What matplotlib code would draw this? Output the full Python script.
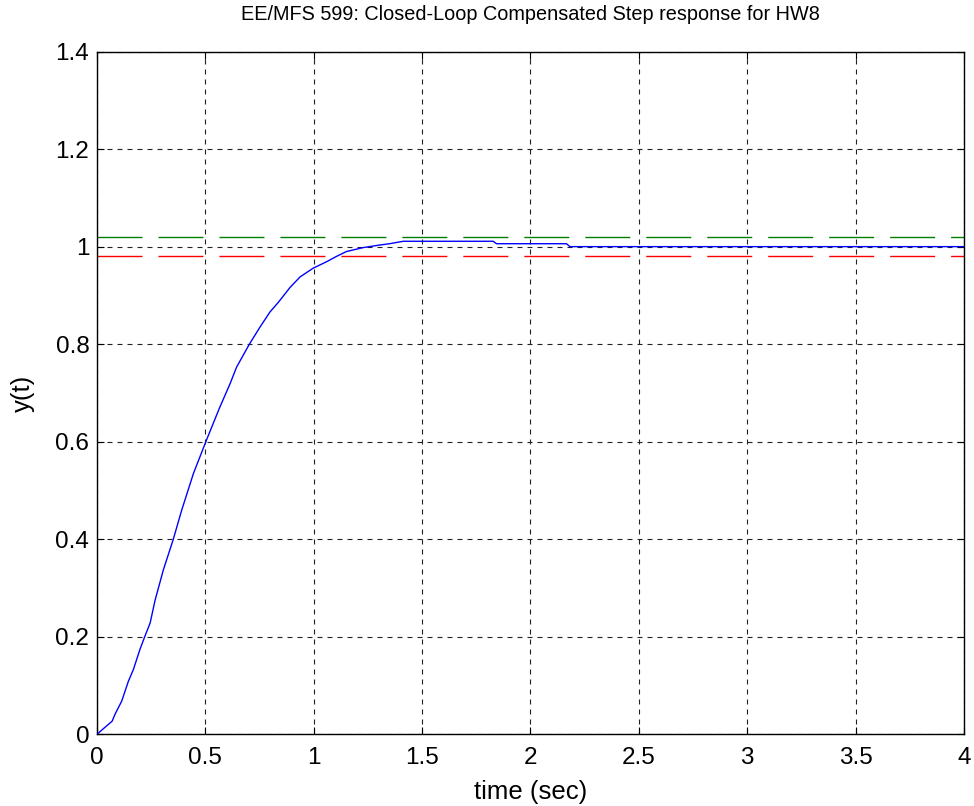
import matplotlib.pyplot as plt

plt.rcParams['font.family'] = ['Liberation Sans', 'DejaVu Sans']

# step response
t = [0, 0.005, 0.07, 0.083, 0.114, 0.145, 0.168, 0.198, 0.221, 0.245, 0.268,
     0.306, 0.352, 0.391, 0.445, 0.503, 0.564, 0.614, 0.644, 0.703, 0.752,
     0.798, 0.837, 0.890, 0.937, 0.998, 1.059, 1.105, 1.151, 1.228, 1.30,
     1.35, 1.413, 1.828, 1.843, 2.166, 2.182, 4.0]
y = [0, 0.002, 0.027, 0.041, 0.068, 0.109, 0.133, 0.174, 0.201, 0.228, 0.275,
     0.337, 0.400, 0.460, 0.535, 0.601, 0.668, 0.719, 0.753, 0.800, 0.835,
     0.866, 0.886, 0.916, 0.938, 0.956, 0.969, 0.980, 0.990, 0.998, 1.003,
     1.006, 1.011, 1.011, 1.006, 1.006, 1.0, 1.0]

band_hi = 1.02
band_lo = 0.98
xticks = [0, 0.5, 1, 1.5, 2, 2.5, 3, 3.5, 4]
xtick_labels = ['0', '0.5', '1', '1.5', '2', '2.5', '3', '3.5', '4']
yticks = [0, 0.2, 0.4, 0.6, 0.8, 1.0, 1.2, 1.4]
ytick_labels = ['0', '0.2', '0.4', '0.6', '0.8', '1', '1.2', '1.4']

fig = plt.figure(figsize=(9.74, 8.06), dpi=100)
ax = fig.add_axes([0.0996, 0.0890, 0.8901, 0.8470])

ax.plot(t, y, color='blue', lw=1.0, zorder=3)
long_dash = (32.4, 11.5)
ax.axhline(band_hi, color='green', lw=1.0, dashes=long_dash, zorder=2)
ax.axhline(band_lo, color='red', lw=1.0, dashes=long_dash, zorder=2)

ax.set_xlim(0, 4)
ax.set_ylim(0, 1.4)
ax.set_xticks(xticks)
ax.set_xticklabels(xtick_labels)
ax.set_yticks(yticks)
ax.set_yticklabels(ytick_labels)
ax.tick_params(direction='in', length=5, width=0.8, top=True, right=True,
               labelsize=17.5)
ax.tick_params(axis='x', pad=9)
ax.tick_params(axis='y', pad=5.5)
ax.grid(True, color='#222222', lw=0.8, dashes=(4.5, 4.5))
ax.set_axisbelow(True)
for sp in ax.spines.values():
    sp.set_linewidth(1.0)

ax.set_title('EE/MFS 599: Closed-Loop Compensated Step response for HW8',
             fontsize=14.3, pad=22.5)
ax.set_xlabel('time (sec)', fontsize=18.5, labelpad=8)
ax.set_ylabel('y(t)', fontsize=18.5, labelpad=14.5)

fig.savefig('out.png', dpi=100)
